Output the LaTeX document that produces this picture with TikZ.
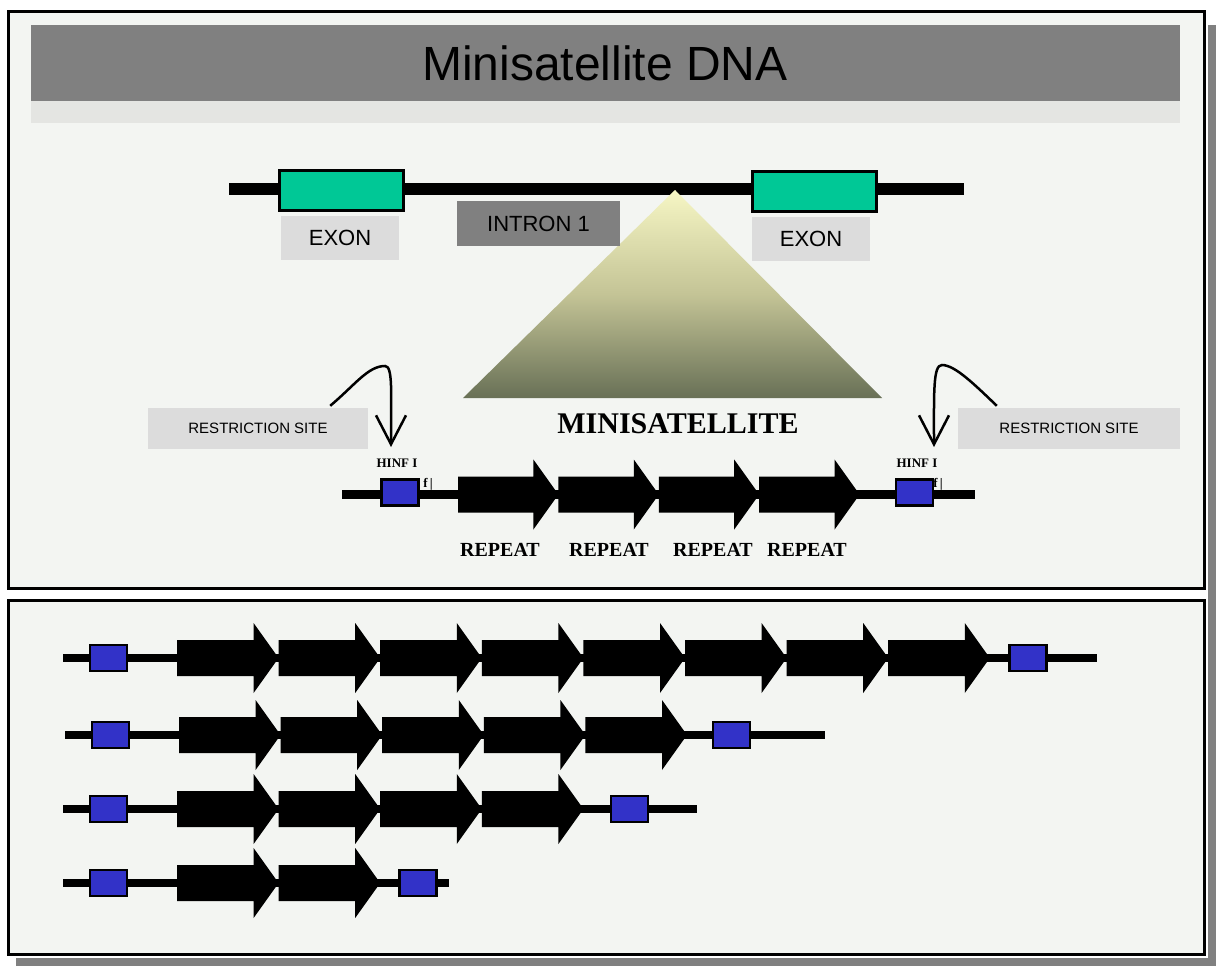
\documentclass[tikz,border=0pt]{standalone}
\usepackage{fontspec}
\setmainfont{Liberation Serif}
\setsansfont{Liberation Sans}
\usetikzlibrary{arrows.meta,positioning}

\definecolor{panelbg}{HTML}{F3F5F2}
\definecolor{shadowgray}{HTML}{808080}
\definecolor{bandgray}{HTML}{E4E5E2}
\definecolor{labelgray}{HTML}{DCDCDC}
\definecolor{exongreen}{HTML}{00C896}
\definecolor{siteblue}{HTML}{3232C8}
\definecolor{peaktop}{HTML}{F6F6C4}
\definecolor{peakmid}{HTML}{C4C496}
\definecolor{peakbot}{HTML}{687056}

% one repeat unit: left x, centre y, length
\newcommand{\rptarrow}[3]{%
  \pgfmathsetmacro{\rptx}{#1}%
  \pgfmathsetmacro{\rpth}{\rptx+#3-25}%
  \pgfmathsetmacro{\rptt}{\rptx+#3}%
  \fill (\rptx,#2-18) -- (\rpth,#2-18) -- (\rpth,#2-35) -- (\rptt,#2)
    -- (\rpth,#2+35) -- (\rpth,#2+18) -- (\rptx,#2+18) -- cycle;}

\begin{document}
\begin{tikzpicture}[
    x = 1pt, y = -1pt,
    panel/.style = {draw, line width = 3pt, fill = panelbg},
    dna/.style = {line width = #1},
    exon/.style = {
      draw,
      line width = 3pt,
      fill = exongreen,
      inner sep = 0pt,
      minimum width = 124pt,
      minimum height = 40pt
    },
    tag/.style = {
      fill = labelgray,
      inner sep = 0pt,
      font = \sffamily\fontsize{22}{24}\selectfont
    },
    site/.style = {
      draw,
      line width = 2.5pt,
      fill = siteblue,
      inner sep = 0pt,
      minimum width = 37pt,
      minimum height = 26pt
    },
    enzyme/.style = {inner sep = 0pt, font = \bfseries\fontsize{13}{14}\selectfont},
    rptlabel/.style = {font = \bfseries\fontsize{20}{22}\selectfont},
    cut/.style = {line width = 2.5pt, -{Straight Barb[length = 29pt, width = 30pt]}}
  ]
  \useasboundingbox (0,0) rectangle (1219,966);

  % shadow and panels
  \fill[shadowgray] (1208,25) rectangle (1216,966);
  \fill[shadowgray] (16,958) rectangle (1216,966);
  \draw[panel] (8,12) rectangle (1204,588);
  \draw[panel] (8,600) rectangle (1204,954);

  \fill[bandgray] (31,101) rectangle (1180,123);
  \fill[shadowgray] (31,25) rectangle (1180,101);
  \node[font = \sffamily\fontsize{48}{50}\selectfont] (title) at (605,63) {Minisatellite DNA};

  % gene
  \coordinate (g0) at (229,189);
  \coordinate (g1) at (964,189);
  \draw[dna = 12pt] (g0) -- (g1);

  \shade[top color = peaktop, bottom color = peakbot, middle color = peakmid]
    (675,190) -- (882,398) -- (463,398) -- cycle;

  \node[exon] (exL) at (341.5,190.5) {};
  \node[exon] (exR) at (814,191) {};
  \node[tag, minimum width = 118pt, minimum height = 44pt] (exonL) at (340,238) {EXON};
  \node[tag, minimum width = 118pt, minimum height = 44pt] (exonR) at (811,239) {EXON};
  \node[tag, fill = shadowgray, minimum width = 163pt, minimum height = 45pt] (intron) at (538.5,223.5) {INTRON 1};

  \node[font = \bfseries\fontsize{30}{32}\selectfont] (mini) at (678,424) {MINISATELLITE};

  % restriction sites
  \node[tag, font = \sffamily\fontsize{15}{17}\selectfont,
        minimum width = 220pt, minimum height = 41pt] (rsL) at (258,428.5) {RESTRICTION SITE};
  \node[tag, font = \sffamily\fontsize{15}{17}\selectfont,
        minimum width = 222pt, minimum height = 41pt] (rsR) at (1069,428.5) {RESTRICTION SITE};

  \coordinate (tipL) at (391,447);
  \coordinate (tipR) at (934,447);
  \draw[cut] ([xshift = -38pt, yshift = 2pt]rsL.north east)
    .. controls (355,385) and (368,366) .. (385,366)
    .. controls (393,366) and (391,392) .. (tipL);
  \draw[cut] ([xshift = 39pt, yshift = 2pt]rsR.north west)
    .. controls (975,385) and (955,365) .. (942,365)
    .. controls (933,365) and (934,392) .. (tipR);

  % repeat array
  \coordinate (m0) at (342,494.5);
  \coordinate (m1) at (975,494.5);
  \draw[dna = 9pt] (m0) -- (m1);
  \node[enzyme] (fL) at (428,484) {f\,|};
  \node[enzyme] (fR) at (938,484) {f\,|};
  \node[site] (hL) at (400,492.5) {};
  \node[site] (hR) at (914.5,492.5) {};
  \node[enzyme] (hinfL) at (397,463) {HINF I};
  \node[enzyme] (hinfR) at (917,463) {HINF I};

  \foreach \i in {0,...,3} {
    \rptarrow{458+100.4*\i}{494.5}{100.4}
  }

  \node[rptlabel] (r1) at (500,550) {REPEAT};
  \node[rptlabel] (r2) at (609,550) {REPEAT};
  \node[rptlabel] (r3) at (713,550) {REPEAT};
  \node[rptlabel] (r4) at (807,550) {REPEAT};

  % alleles
  \foreach \n/\y/\e/\bx/\o in {8/658/1097/1028/0, 5/735/825/731.5/2, 4/809/697/629.5/0, 2/883/449/418/0} {
    \coordinate (a\n) at (63+\o,\y);
    \coordinate (b\n) at (\e,\y);
    \draw[dna = 8.5pt] (a\n) -- (b\n);
    \node[site] (s\n) at (108.5+\o,\y) {};
    \node[site] (t\n) at (\bx,\y) {};
    \foreach \i in {1,...,\n} {
      \rptarrow{177+\o+101.6*(\i-1)}{\y}{101.6}
    }
  }

\end{tikzpicture}
\end{document}
